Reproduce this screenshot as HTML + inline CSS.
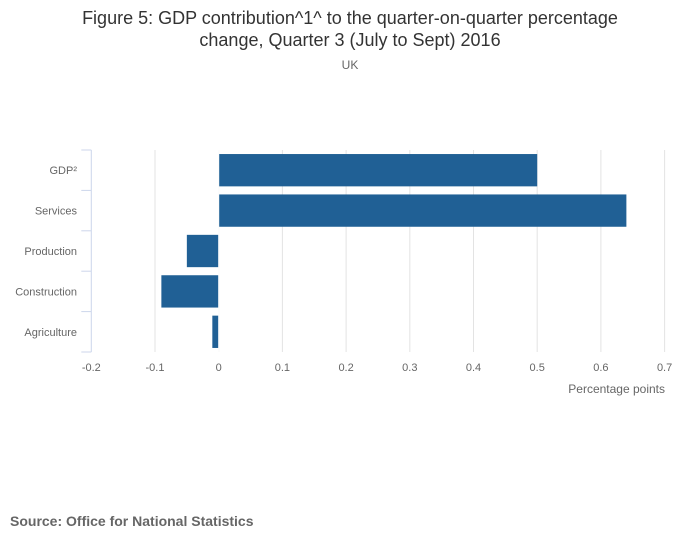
<!DOCTYPE html>
<html><head><meta charset="utf-8"><style>
body{margin:0;background:#fff;font-family:"Liberation Sans",sans-serif;}
svg text{font-family:"Liberation Sans",sans-serif;}
</style></head><body>
<svg width="700" height="549" xmlns="http://www.w3.org/2000/svg">
<text x="350" y="24" text-anchor="middle" font-size="18" fill="#333">Figure 5: GDP contribution^1^ to the quarter-on-quarter percentage</text>
<text x="350" y="46" text-anchor="middle" font-size="18" fill="#333">change, Quarter 3 (July to Sept) 2016</text>
<text x="350" y="69" text-anchor="middle" font-size="12" fill="#666">UK</text>
<g id="grid"></g>
<g id="bars"></g>
<g id="axes"></g>
<text x="665" y="393" text-anchor="end" font-size="12" fill="#666">Percentage points</text>
<text x="10" y="526" font-size="14" font-weight="bold" fill="#666">Source: Office for National Statistics</text>
</svg>
<script>
const categories=["GDP²","Services","Production","Construction","Agriculture"];
const values=[0.5,0.64,-0.05,-0.09,-0.01];
const ticks=[-0.2,-0.1,0,0.1,0.2,0.3,0.4,0.5,0.6,0.7];
const tickLabels=["-0.2","-0.1","0","0.1","0.2","0.3","0.4","0.5","0.6","0.7"];
const NS="http://www.w3.org/2000/svg";
const x0=91.3,x1=664.6,yTop=150,yBottom=352;
const xs=v=>x0+(v-(-0.2))/(0.9)*(x1-x0);
const band=(yBottom-yTop)/categories.length;
const ys=i=>yTop+i*band;
function mk(t,a,p){const e=document.createElementNS(NS,t);for(const k in a)e.setAttribute(k,a[k]);p.appendChild(e);return e;}
const gGrid=document.getElementById('grid'),gBars=document.getElementById('bars'),gAx=document.getElementById('axes');
ticks.forEach((t,i)=>{
 if(i>0){const l=mk('line',{x1:xs(t),x2:xs(t),y1:yTop,y2:yBottom,stroke:'#e3e3e3','stroke-width':1},gGrid);
 
 }
 const tx=mk('text',{x:xs(t),y:371,'text-anchor':'middle','font-size':11,fill:'#666'},gAx);
 tx.textContent=tickLabels[i];
 
 
});
categories.forEach((c,i)=>{
 const v=values[i];
 const r=mk('rect',{x:Math.min(xs(0),xs(v)),y:ys(i)+band*0.1,width:Math.abs(xs(v)-xs(0)),height:band*0.8,fill:'#206095'},gBars);
 
 
 const tx=mk('text',{x:77,y:ys(i)+band/2+4,'text-anchor':'end','font-size':11,fill:'#666'},gAx);
 tx.textContent=c;
 
 
});
const yl=mk('line',{x1:x0,x2:x0,y1:yTop,y2:yBottom,stroke:'#ccd6eb','stroke-width':1},gAx);


for(let i=0;i<=categories.length;i++){
 const tk=mk('line',{x1:x0-10,x2:x0,y1:ys(i),y2:ys(i),stroke:'#ccd6eb','stroke-width':1},gAx);
 
 
}
const zl=mk('line',{x1:xs(0),x2:xs(0),y1:yTop,y2:yBottom,stroke:'#fff','stroke-width':1},gAx);


</script>
</body></html>
